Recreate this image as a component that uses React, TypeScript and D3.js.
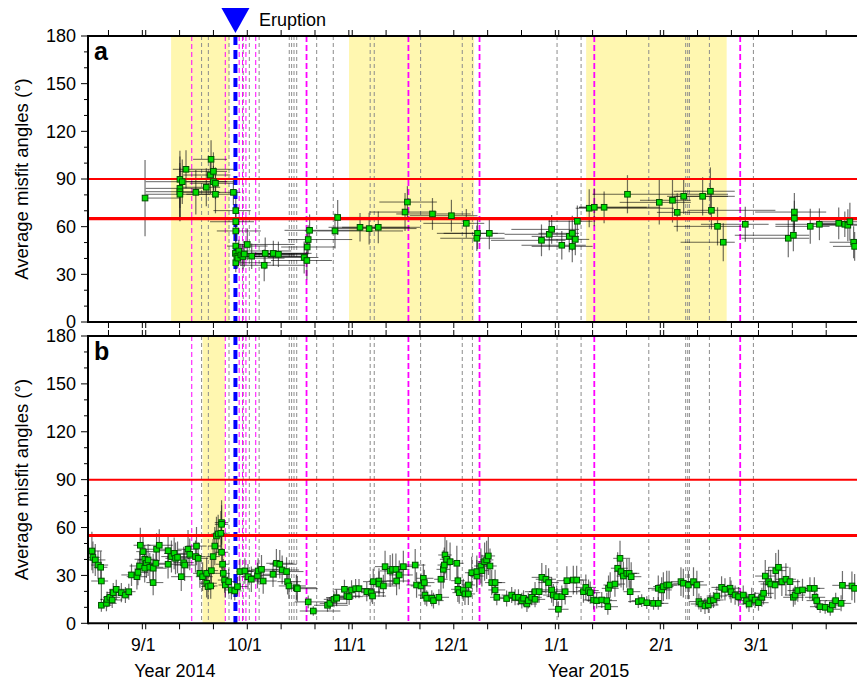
import * as React from 'react';
import * as d3 from 'd3';

// day-of-year counted from 1 Jan 2014 (values > 365 fall in 2015)
const day = (n: number) => new Date(Date.UTC(2014, 0, 1) + (n - 1) * 864e5);

const eruption = 270.5;

// dashed event lines
const grayLines = [260.5, 262.5, 268.6, 272.8, 274.6, 277.5, 286.4, 287.1, 287.8, 288.6, 294.5, 299.4,
  310.3, 311.5, 325.2, 337.5, 340.5, 365.5, 372.6, 392.6, 403.5, 404.1, 404.6, 410.5, 423.5];
const magentaSmall = [257.6, 267.5, 271.6, 272.6, 273.6, 276.5];
const magentaLarge = [291.5, 321.6, 342.6, 376.5, 419.6];

// shaded periods
const shadeA = [[251.5, 268.75], [304.06, 341.0], [374.1, 415.6]];
const shadeB = [[260.8, 267.4]];

// panel a: [time, misfit, err, window start, window end]
const misfitA = [
  [243.8, 78, 24, 243.8, 254], [254.1, 89.8, 18, 244, 269], [254.8, 88.3, 14, 244, 268],
  [254.1, 84.1, 20, 244, 262], [254.1, 82.0, 18, 244, 265], [254.1, 80.4, 17, 244, 263],
  [255.9, 96.1, 12, 252, 270], [258.8, 81.6, 14, 254, 266], [261.9, 84.8, 12, 255, 266],
  [263.3, 102.4, 12, 258, 268], [263.1, 92.5, 12, 255, 269], [264, 94.8, 12, 254, 268],
  [264, 88.3, 10, 256, 270], [264.6, 87.3, 10, 257, 270], [264.6, 80.4, 12, 256, 270],
  [269.9, 81.6, 8, 264, 272], [270.6, 70.1, 8, 264, 275], [270.6, 63.1, 8, 263, 276],
  [270.6, 57.3, 7, 265, 278], [270.6, 47.8, 7, 268, 280], [270.5, 43.2, 6, 270, 282],
  [270.9, 41.2, 6, 270.5, 283], [270.6, 37.3, 6, 270.5, 281], [271.2, 40.2, 6, 270.6, 285],
  [271.5, 44.7, 7, 270.6, 287], [272.1, 42.2, 7, 270.7, 288], [272.7, 41.2, 8, 270.8, 290],
  [273.1, 42.8, 8, 271, 292], [274, 48.8, 10, 271, 288], [275.3, 41.4, 8, 272, 292],
  [279.3, 43.2, 10, 272, 293], [279, 35.7, 10, 272, 291], [281.7, 43.2, 8, 275, 292],
  [283.2, 42.6, 8, 276, 292], [290.8, 40.6, 10, 280, 295], [291.6, 38.7, 12, 281, 299],
  [291.7, 47.2, 9, 284, 300], [292, 51.9, 9, 286, 305], [292.4, 57.7, 10, 285, 308],
  [299.9, 57.3, 11, 291, 320], [300.7, 65.8, 11, 292, 320], [307.3, 59.6, 9, 298, 322],
  [310, 58.8, 10, 300, 324], [312.7, 59.6, 10, 302, 325], [320.6, 69.2, 12, 310, 330],
  [321.3, 75.5, 10, 313, 330], [328.7, 68, 10, 318, 340], [334.3, 66.9, 10, 322, 342],
  [338.7, 62.1, 9, 326, 344], [342, 55.8, 10, 330, 348], [341.8, 52.7, 8, 331, 350],
  [345.5, 55.8, 10, 332, 350], [360.9, 51.4, 10, 346, 368], [363.2, 55.2, 10, 350, 370],
  [363.9, 58.3, 9, 352, 372], [366.9, 48.3, 9, 355, 374], [369.1, 53.9, 10, 358, 372],
  [370, 55.8, 11, 360, 372], [370, 47.6, 10, 358, 376], [370.9, 52, 10, 360, 375],
  [371.5, 63.4, 10, 363, 376], [375, 71.6, 12, 371, 400], [376.5, 72.2, 12, 372, 392],
  [379.4, 72.2, 10, 372, 396], [386.3, 80.4, 12, 376, 416], [395.7, 75.3, 14, 384, 405],
  [399.6, 76.6, 14, 390, 405], [401, 69, 12, 395, 410], [402.9, 79.1, 11, 398, 418],
  [408.5, 79.1, 12, 400, 416], [410.8, 82.3, 15, 400, 418], [411.1, 70.3, 12, 404, 430],
  [412.9, 60.2, 12, 400, 420], [414.6, 50.2, 12, 402, 418], [421.1, 61.5, 11, 408, 428],
  [433.8, 52.7, 12, 420, 440], [435.3, 54.6, 10, 418, 440], [435.6, 69.2, 12, 424, 445],
  [435.6, 65.3, 11, 423, 448], [440.3, 60.2, 11, 430, 446], [443, 61.5, 10, 430, 450],
  [448.7, 62.1, 10, 440, 453], [450.5, 61.5, 8, 442, 455], [451.4, 60.9, 10, 443, 455],
  [452, 63.1, 12, 444, 456], [453.1, 50.2, 10, 446, 456], [453.4, 47.6, 9, 447, 456],
];

// panel b: [time, misfit, err, days before, days after]
const misfitB = [
  [228.1, 45.3, 12, 2, 3], [228.4, 41.3, 10, 2, 2], [229.1, 39.7, 10, 2, 3], [229.9, 36.5, 9, 2, 3],
  [230.7, 35.1, 10, 2, 2], [230.9, 26.5, 12, 3, 2], [230.9, 11.3, 4, 1, 3], [232.4, 12.5, 5, 2, 3],
  [232.6, 15.0, 5, 2, 3], [233.4, 16.3, 5, 2, 3], [234.1, 14.6, 5, 2, 3], [234.4, 19.2, 6, 2, 3],
  [235.3, 21.3, 6, 2, 3], [236.8, 19.2, 6, 3, 3], [238, 17.7, 5, 3, 2], [239, 19.8, 5, 3, 2],
  [239.8, 30.3, 7, 3, 3], [241.4, 29.2, 8, 3, 3], [241.7, 31.9, 8, 3, 3], [242.2, 35.9, 9, 3, 3],
  [242.4, 48.9, 11, 2, 3], [243.2, 44.9, 10, 2, 3], [243.7, 40.1, 9, 3, 3], [244.2, 37.6, 9, 3, 3],
  [244.7, 39.7, 10, 3, 3], [243.7, 34.5, 9, 3, 3], [245.2, 35.1, 9, 3, 4], [246.2, 34.5, 9, 3, 4],
  [246.2, 25.5, 8, 2, 3], [247, 37.6, 10, 3, 4], [247.2, 46.4, 10, 3, 4], [248, 48.9, 10, 3, 4],
  [250.6, 45.5, 10, 3, 4], [250.6, 37.0, 9, 3, 4], [251.6, 41.8, 10, 3, 4], [252.4, 43.8, 10, 3, 4],
  [252.8, 40.7, 10, 3, 4], [253.4, 41.3, 10, 3, 3], [254.5, 29.2, 9, 3, 3], [255.2, 38.0, 10, 3, 3],
  [255.5, 36.5, 10, 3, 3], [256.5, 46.4, 12, 3, 3], [257, 43.2, 10, 3, 3], [258.7, 41.8, 10, 3, 3],
  [259, 48.4, 12, 3, 3], [259.5, 40.7, 10, 3, 3], [260, 31.3, 9, 2, 3], [260.8, 29.2, 9, 2, 3],
  [262, 31.3, 10, 2, 3], [262, 25.1, 9, 2, 3], [262.4, 23.0, 8, 2, 2], [263.2, 23.4, 8, 2, 2],
  [263.4, 33.0, 10, 2, 2], [263.9, 41.8, 11, 2, 2], [264.4, 48.4, 12, 2, 2], [264.9, 54.7, 12, 2, 2],
  [265.4, 56.0, 12, 2, 2], [266.2, 56.4, 14, 2, 2], [266.4, 63.1, 14, 2, 2], [266.4, 62.0, 12, 2, 2],
  [266.4, 44.5, 11, 2, 2], [266.7, 37.0, 10, 2, 2], [266.9, 31.3, 9, 2, 2], [267.3, 27.1, 8, 2, 2],
  [267.5, 24.0, 8, 2, 2], [268.5, 26.1, 8, 2, 2], [269.3, 20.9, 6, 2, 2], [270.3, 20.3, 6, 2, 2],
  [271.1, 23.0, 6, 1, 3], [271.8, 32.4, 8, 1, 4], [273.3, 32.8, 8, 2, 5], [274.2, 29.2, 8, 2, 4],
  [275.2, 27.6, 8, 2, 4], [277, 29.9, 8, 2, 5], [277.2, 32.8, 8, 3, 5], [278.2, 33.8, 9, 3, 5],
  [278.7, 26.5, 8, 3, 4], [281.6, 30.7, 8, 3, 5], [282.6, 37.6, 9, 3, 5], [283.6, 37.0, 9, 3, 5],
  [284.3, 33.4, 9, 3, 5], [285.6, 32.4, 9, 3, 5], [285.9, 26.1, 8, 3, 4], [286.3, 23.4, 8, 3, 5],
  [288.5, 22.3, 8, 3, 6], [288.8, 21.7, 8, 3, 6], [292, 13.4, 4, 4, 8], [293.5, 7.7, 3, 4, 8],
  [297.7, 11.3, 4, 4, 6], [298.4, 12.5, 4, 3, 5], [299.6, 15.0, 5, 3, 5], [300.3, 16.1, 5, 3, 5],
  [300.4, 15.7, 5, 3, 5], [302.7, 21.3, 6, 3, 5], [303.4, 17.1, 5, 3, 4], [304.1, 16.7, 5, 3, 4],
  [304.8, 20.9, 6, 3, 4], [306, 21.7, 6, 3, 4], [307, 21.7, 6, 3, 4], [309.3, 19.8, 6, 3, 4],
  [310.6, 19.2, 6, 3, 4], [311, 17.1, 5, 3, 4], [311.2, 26.1, 8, 3, 4], [312.9, 26.5, 8, 3, 4],
  [312.9, 24.6, 8, 3, 4], [314.2, 23.4, 7, 3, 4], [314.7, 35.5, 10, 3, 4], [316.2, 32.8, 10, 3, 4],
  [316.9, 33.8, 10, 3, 4], [317.9, 33.8, 10, 3, 4], [318.1, 26.5, 9, 3, 4], [318.9, 30.3, 9, 3, 4],
  [320.1, 35.5, 10, 3, 4], [323.6, 36.5, 10, 3, 3], [324, 24.0, 8, 3, 3], [325.3, 23.4, 8, 3, 3],
  [326, 28.2, 9, 2, 3], [326.3, 25.5, 8, 2, 3], [326.5, 17.7, 6, 2, 3], [327, 15.7, 5, 2, 3],
  [328.5, 15.7, 5, 2, 3], [329, 14.2, 5, 2, 3], [330.6, 16.3, 5, 2, 3], [331.2, 27.6, 10, 2, 2],
  [331.9, 33.8, 12, 2, 2], [332.4, 42.8, 12, 2, 2], [332.2, 36.5, 11, 2, 2], [332.9, 40.1, 12, 2, 2],
  [333.9, 38.6, 12, 2, 2], [335.9, 37.6, 11, 2, 2], [336.2, 26.7, 9, 2, 2], [336.2, 21.3, 8, 2, 2],
  [336.6, 19.2, 7, 2, 2], [337.8, 20.9, 7, 2, 2], [338.3, 18.4, 7, 2, 2], [339.3, 18.4, 7, 2, 2],
  [339.3, 24.0, 8, 2, 2], [340.3, 31.7, 10, 2, 2], [341.8, 29.6, 10, 2, 2], [341.8, 32.4, 10, 2, 2],
  [343, 35.9, 11, 2, 2], [343.3, 33.0, 10, 2, 2], [344.1, 38.6, 12, 2, 2], [344.7, 39.7, 12, 2, 2],
  [345.2, 42.2, 12, 2, 2], [345.7, 35.9, 11, 2, 2], [346.2, 25.5, 8, 2, 3], [347.2, 25.5, 8, 2, 3],
  [347.2, 20.9, 7, 2, 3], [347.7, 16.3, 5, 2, 3], [350.6, 15.5, 5, 3, 3], [352.1, 17.7, 5, 3, 3],
  [353.1, 16.3, 5, 3, 3], [354.1, 16.3, 5, 3, 3], [355.1, 14.2, 5, 3, 3], [355.6, 15.7, 5, 3, 3],
  [356.6, 12.1, 5, 3, 3], [357, 14.2, 5, 3, 3], [358, 16.3, 5, 3, 3], [359, 19.8, 6, 3, 3],
  [359, 15.0, 5, 3, 3], [360.2, 19.8, 7, 3, 3], [361, 28.8, 9, 3, 3], [362.2, 27.6, 9, 3, 3],
  [363, 25.5, 9, 3, 3], [363.9, 20.9, 8, 3, 3], [364.4, 17.7, 7, 3, 3], [365.4, 16.7, 7, 3, 3],
  [365.9, 8.8, 5, 3, 3], [366.9, 16.7, 7, 3, 3], [367.9, 19.8, 8, 3, 3], [368.4, 26.7, 9, 3, 3],
  [370.3, 27.1, 9, 3, 3], [371.3, 27.1, 9, 3, 3], [373.3, 19.8, 7, 3, 3], [374, 22.5, 8, 3, 3],
  [374.8, 20.5, 7, 3, 3], [375.3, 19.2, 7, 3, 3], [376.3, 14.6, 6, 3, 3], [377.2, 14.2, 5, 3, 3],
  [378.7, 14.6, 5, 3, 3], [380.2, 14.2, 5, 3, 3], [380.5, 10.4, 5, 3, 3], [380.7, 21.9, 8, 2, 3],
  [381.2, 24.0, 8, 2, 3], [382.6, 24.6, 8, 2, 3], [383.4, 34.5, 10, 2, 3], [384.1, 40.7, 11, 2, 3],
  [384.4, 32.4, 10, 2, 3], [385.1, 29.6, 9, 2, 3], [386.1, 31.3, 9, 2, 3], [386.8, 31.3, 9, 2, 3],
  [387.1, 19.8, 7, 2, 3], [387.4, 29.2, 9, 2, 3], [389.5, 13.6, 4, 3, 3], [390.5, 14.2, 4, 3, 3],
  [392, 12.9, 4, 3, 3], [394, 12.5, 4, 3, 3], [395.4, 12.5, 4, 3, 3], [395.4, 21.9, 8, 3, 3],
  [396.4, 20.9, 8, 3, 3], [396.9, 23.0, 9, 3, 3], [397.9, 24.0, 9, 3, 3], [398.6, 24.0, 9, 3, 3],
  [402.1, 26.1, 9, 3, 3], [402.8, 25.1, 9, 3, 3], [404.3, 24.0, 9, 3, 3], [405.8, 26.1, 9, 3, 3],
  [406.8, 24.0, 9, 3, 3], [407.4, 13.6, 5, 3, 3], [408, 12.1, 5, 3, 3], [409.2, 10.9, 5, 3, 3],
  [410.2, 11.5, 5, 3, 3], [410.7, 14.2, 5, 3, 3], [411.7, 14.6, 5, 3, 3], [412.7, 17.1, 6, 3, 3],
  [414.1, 22.5, 7, 3, 3], [415.1, 21.3, 7, 3, 3], [416.6, 22.0, 7, 3, 3], [416.9, 19.8, 7, 3, 3],
  [418.1, 17.7, 6, 3, 3], [419.1, 16.7, 6, 3, 3], [420.5, 17.7, 6, 3, 3], [421.5, 14.2, 5, 3, 3],
  [422.2, 12.1, 5, 3, 3], [423, 16.3, 6, 3, 3], [424, 14.6, 5, 3, 3], [425, 12.9, 5, 3, 3],
  [426, 16.3, 6, 3, 3], [426.5, 18.8, 7, 3, 3], [427, 29.6, 10, 3, 3], [428, 26.1, 9, 3, 3],
  [428.6, 24.6, 9, 3, 3], [429.9, 24.0, 9, 3, 3], [430.1, 33.0, 11, 3, 3], [430.9, 35.1, 11, 3, 3],
  [431.9, 26.1, 9, 3, 3], [433.1, 27.6, 10, 3, 3], [434.3, 26.1, 9, 3, 3], [435.3, 16.3, 6, 3, 3],
  [435.8, 17.7, 6, 3, 3], [436.6, 20.5, 7, 3, 3], [438, 20.9, 7, 3, 3], [440.2, 21.9, 7, 3, 3],
  [441.5, 21.9, 7, 3, 3], [441.7, 16.3, 6, 3, 3], [442.2, 14.2, 5, 3, 3], [443.2, 10.4, 4, 3, 3],
  [444.7, 10.0, 4, 3, 3], [446.2, 8.8, 4, 3, 3], [446.8, 11.5, 4, 3, 3], [447.8, 14.2, 5, 3, 3],
  [449.4, 12.5, 5, 3, 3], [449.8, 23.8, 9, 3, 3], [452.6, 23.4, 9, 3, 3], [453.4, 21.9, 9, 3, 3],
];

const thresholdsA = [90, 65];
const thresholdsB = [90, 55];
const yTicks = [0, 30, 60, 90, 120, 150, 180];
const monthLabels = ['9/1', '10/1', '11/1', '12/1', '1/1', '2/1', '3/1'];
const monthStarts = [244, 274, 305, 335, 366, 397, 425];
const yearLabels = ['Year 2014', 'Year 2015'];
const yearPos = [252.6, 374.8];

const W = 857, H = 682;
const L = 88, R = 857;
const font = 'Liberation Sans, Arial, Helvetica, sans-serif';

const x = d3.scaleUtc().domain([day(226.95), day(454.1)]).range([L, R]);
const xTicks = d3.utcDay.range(day(226.95), day(454.1)).filter(d => [1, 11, 21, 31].includes(d.getUTCDate()));

function Panel({ top, bottom, rows, shades, thr, letter, id }: any) {
  const y = d3.scaleLinear().domain([0, 180]).range([bottom, top]);
  const minor = d3.range(0, 181, 10);
  return (
    <g>
      <defs>
        <clipPath id={id}><rect x={L} y={top} width={R - L} height={bottom - top} /></clipPath>
      </defs>
      <g clipPath={`url(#${id})`}>
        {shades.map((s: number[], i: number) => (
          <rect key={i} x={x(day(s[0]))} y={top} width={x(day(s[1])) - x(day(s[0]))} height={bottom - top} fill="#fff7b0" />
        ))}
        {grayLines.map((d, i) => (
          <line key={'g' + i} x1={x(day(d))} x2={x(day(d))} y1={top} y2={bottom} stroke="#8c8c8c" strokeWidth={1} strokeDasharray="4,3" />
        ))}
        {magentaSmall.map((d, i) => (
          <line key={'m' + i} x1={x(day(d))} x2={x(day(d))} y1={top} y2={bottom} stroke="#ff00ff" strokeWidth={1} strokeDasharray="5,3" />
        ))}
        {magentaLarge.map((d, i) => (
          <line key={'M' + i} x1={x(day(d))} x2={x(day(d))} y1={top} y2={bottom} stroke="#ff00ff" strokeWidth={1.8} strokeDasharray="6,3" />
        ))}
        <line x1={x(day(eruption))} x2={x(day(eruption))} y1={top} y2={bottom} stroke="#0000ff" strokeWidth={4} strokeDasharray="9,5" />
        {rows.map((r: number[], i: number) => (
          <g key={'e' + i}>
            <line x1={x(day(r[3]))} x2={x(day(r[4]))} y1={y(r[1])} y2={y(r[1])} stroke="#000" strokeOpacity={0.6} strokeWidth={1} />
            <line x1={x(day(r[0]))} x2={x(day(r[0]))} y1={y(r[1] - r[2])} y2={y(r[1] + r[2])} stroke="#222" strokeOpacity={0.65} strokeWidth={1.2} />
          </g>
        ))}
        <line x1={L} x2={R} y1={y(thr[0])} y2={y(thr[0])} stroke="#ff0000" strokeWidth={2} />
        <line x1={L} x2={R} y1={y(thr[1])} y2={y(thr[1])} stroke="#ff0000" strokeWidth={3.2} />
        {rows.map((r: number[], i: number) => (
          <rect key={'p' + i} x={x(day(r[0])) - 2.8} y={y(r[1]) - 2.8} width={5.6} height={5.6} fill="#00dd00" stroke="#005000" strokeWidth={1} />
        ))}
      </g>
      {/* frame */}
      <line x1={L} x2={R} y1={top} y2={top} stroke="#000" strokeWidth={2} />
      <line x1={L} x2={R} y1={bottom} y2={bottom} stroke="#000" strokeWidth={2} />
      <line x1={L} x2={L} y1={top - 1} y2={bottom + 1} stroke="#000" strokeWidth={2} />
      {xTicks.map((d, i) => (
        <g key={'xt' + i}>
          <line x1={x(d)} x2={x(d)} y1={top} y2={top - 6} stroke="#000" strokeWidth={1} />
          <line x1={x(d)} x2={x(d)} y1={bottom} y2={bottom + 6} stroke="#000" strokeWidth={1} />
        </g>
      ))}
      {minor.map(v => (
        <line key={'yt' + v} x1={L} x2={L - (v % 30 === 0 ? 7 : 4)} y1={y(v)} y2={y(v)} stroke="#000" strokeWidth={1} />
      ))}
      {yTicks.map(v => (
        <text key={'yl' + v} x={76} y={y(v)} dy="0.36em" textAnchor="end" fontSize={18} fontFamily={font}>{v}</text>
      ))}
      <text transform={`translate(28,${(top + bottom) / 2}) rotate(-90)`} textAnchor="middle" fontSize={18.5} fontFamily={font}>Average misfit angles (°)</text>
      <text x={94} y={top + 24} fontSize={25} fontWeight="bold" fontFamily={font}>{letter}</text>
    </g>
  );
}

export default function App() {
  const rowsB = misfitB.map(r => [r[0], r[1], r[2], r[0] - r[3], r[0] + r[4]]);
  const ex = x(day(eruption));
  return (
    <svg width={W} height={H} style={{ display: 'block', background: '#fff', position: 'absolute', left: 0, top: 0 }}>
      <Panel id="ca" top={36} bottom={322} rows={misfitA} shades={shadeA} thr={thresholdsA} letter="a" />
      <Panel id="cb" top={336} bottom={623.3} rows={rowsB} shades={shadeB} thr={thresholdsB} letter="b" />
      <path d={`M${ex - 14},8 L${ex + 14},8 L${ex},33 Z`} fill="#0000ff" />
      <text x={259} y={26} fontSize={18} fontFamily={font}>Eruption</text>
      {monthLabels.map((m, i) => (
        <text key={m} x={x(day(monthStarts[i])) - 2.5} y={651} textAnchor="middle" fontSize={17.5} fontFamily={font}>{m}</text>
      ))}
      {yearLabels.map((t, i) => (
        <text key={t} x={x(day(yearPos[i]))} y={677} textAnchor="middle" fontSize={18} fontFamily={font}>{t}</text>
      ))}
    </svg>
  );
}
